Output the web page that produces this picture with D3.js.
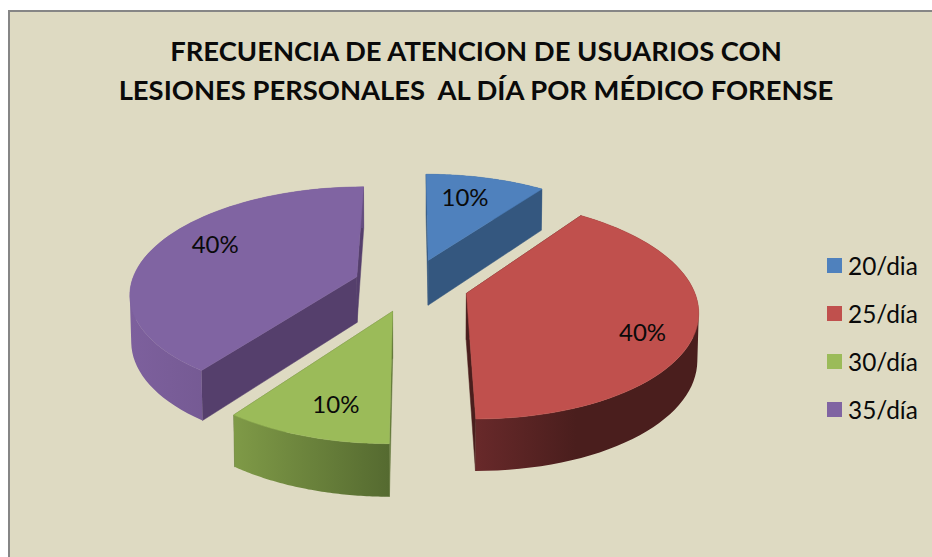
<!DOCTYPE html>
<html><head><meta charset="utf-8">
<script src="https://cdn.jsdelivr.net/npm/d3@7/dist/d3.min.js"></script>
<style>html,body{margin:0;padding:0;background:#fff}svg{display:block}text{font-family:Lato,"Open Sans",sans-serif;fill:#0a0a0a}</style>
</head><body><svg id="c" width="932" height="557"></svg>
<script>
const titleLines = ["FRECUENCIA DE ATENCION DE USUARIOS CON", "LESIONES PERSONALES  AL DÍA POR MÉDICO FORENSE"];
const categories = ["20/dia", "25/día", "30/día", "35/día"];
const values = [10, 40, 10, 40];
const percentLabels = ["10%", "40%", "10%", "40%"];
const topColors = ["#4f81bd", "#c0504d", "#9bbb59", "#8064a2"];
const sideColors = ["#34577f", "#4a1e1d", "#5f7536", "#553f6c"];
const rimStops = [["#34577f", "#34577f"], ["#68292a", "#4a1e1d"], ["#7f9a47", "#556a30"], ["#7d609d", "#654e80"]];

// layout of the tilted pie (perspective projection of a unit disc)
const cx = 411, cy = 285, A = 226, B = 105, K = 0.143, explode = 0.255, depth = 46, shrink = 0.995;
const labelPolar = [[0.73, -2.7], [0.80, 8], [0.765, -2.3], [0.75, 8]];

const svg = d3.select("#c");
const defs = svg.append("defs");
svg.append("rect").attr("x", 9).attr("y", 11).attr("width", 930).attr("height", 556)
  .attr("fill", "#dedac2").attr("stroke", "#868686").attr("stroke-width", 2);

const project = (X, Y, z) => {
  const s = 1 + K * Y;
  const px = A * X / s, py = -B * Y / s;
  if (!z) return [cx + px, cy + py];
  const d = depth / (1 + 0.75 * K * Y);
  return [cx + px * shrink, cy + py + d];
};
const line = d3.line();
const pie = d3.pie().sort(null).startAngle(0).endAngle(2 * Math.PI)(values);

const g = svg.append("g");
pie.forEach((p, i) => {
  const mid = (p.startAngle + p.endAngle) / 2;
  const ox = explode * Math.sin(mid), oy = explode * Math.cos(mid);
  const pt = (a, r, z) => project(ox + r * Math.sin(a), oy + r * Math.cos(a), z);
  const arcAngles = d3.range(0, 61).map(t => d3.interpolate(p.startAngle, p.endAngle)(t / 60));
  const topArc = arcAngles.map(a => pt(a, 1, 0)), botArc = arcAngles.map(a => pt(a, 1, 1));
  const apexT = pt(0, 0, 0), apexB = pt(0, 0, 1);

  // cut faces
  const faces = [[apexT, topArc[0], botArc[0], apexB], [apexT, topArc[60], botArc[60], apexB]];
  faces.forEach(f => g.append("path").attr("d", line(f) + "Z").attr("fill", sideColors[i])
      .attr("stroke", sideColors[i]).attr("stroke-width", 0.5));

  // rim: one path of same-wound strips, so the nonzero fill is their seamless union
  const xs = topArc.concat(botArc).map(d => d[0]);
  const grad = defs.append("linearGradient").attr("id", "rim" + i).attr("gradientUnits", "userSpaceOnUse")
    .attr("x1", d3.min(xs)).attr("x2", d3.max(xs)).attr("y1", 0).attr("y2", 0);
  grad.append("stop").attr("offset", 0).attr("stop-color", rimStops[i][0]);
  grad.append("stop").attr("offset", i === 1 ? 0.45 : 1).attr("stop-color", rimStops[i][1]);
  const rimD = d3.range(60).map(k => {
    const q = [topArc[k], topArc[k + 1], botArc[k + 1], botArc[k]];
    if (d3.polygonArea(q) < 0) q.reverse();
    return line(q) + "Z";
  }).join("");
  g.append("path").attr("d", rimD).attr("fill", `url(#rim${i})`);

  // top
  g.append("path").attr("d", line([apexT].concat(topArc)) + "Z").attr("fill", topColors[i])
    .attr("stroke", topColors[i]).attr("stroke-width", 0.5);
});

// percentage labels
pie.forEach((p, i) => {
  const mid = (p.startAngle + p.endAngle) / 2;
  const ox = explode * Math.sin(mid), oy = explode * Math.cos(mid);
  const a = mid + labelPolar[i][1] * Math.PI / 180, r = labelPolar[i][0];
  const [x, y] = project(ox + r * Math.sin(a), oy + r * Math.cos(a), 0);
  svg.append("text").attr("x", x).attr("y", y).attr("dy", "0.35em").attr("text-anchor", "middle")
    .attr("font-size", 24).text(percentLabels[i]);
});

// title
const titleY = d3.scalePoint().domain(d3.range(titleLines.length)).range([61, 100]);
titleLines.forEach((t, i) => svg.append("text").attr("x", 476).attr("y", titleY(i))
  .attr("text-anchor", "middle").attr("font-size", 27.4).attr("font-weight", 700)
  .style("white-space", "pre").attr("xml:space", "preserve").text(t));

// legend
const legendY = d3.scalePoint().domain(categories).range([266, 410]);
categories.forEach((c, i) => {
  svg.append("rect").attr("x", 827).attr("y", legendY(c) - 8).attr("width", 15).attr("height", 15).attr("fill", topColors[i]);
  svg.append("text").attr("x", 848).attr("y", legendY(c)).attr("dy", "0.35em").attr("font-size", 24.4).text(c);
});
</script></body></html>
